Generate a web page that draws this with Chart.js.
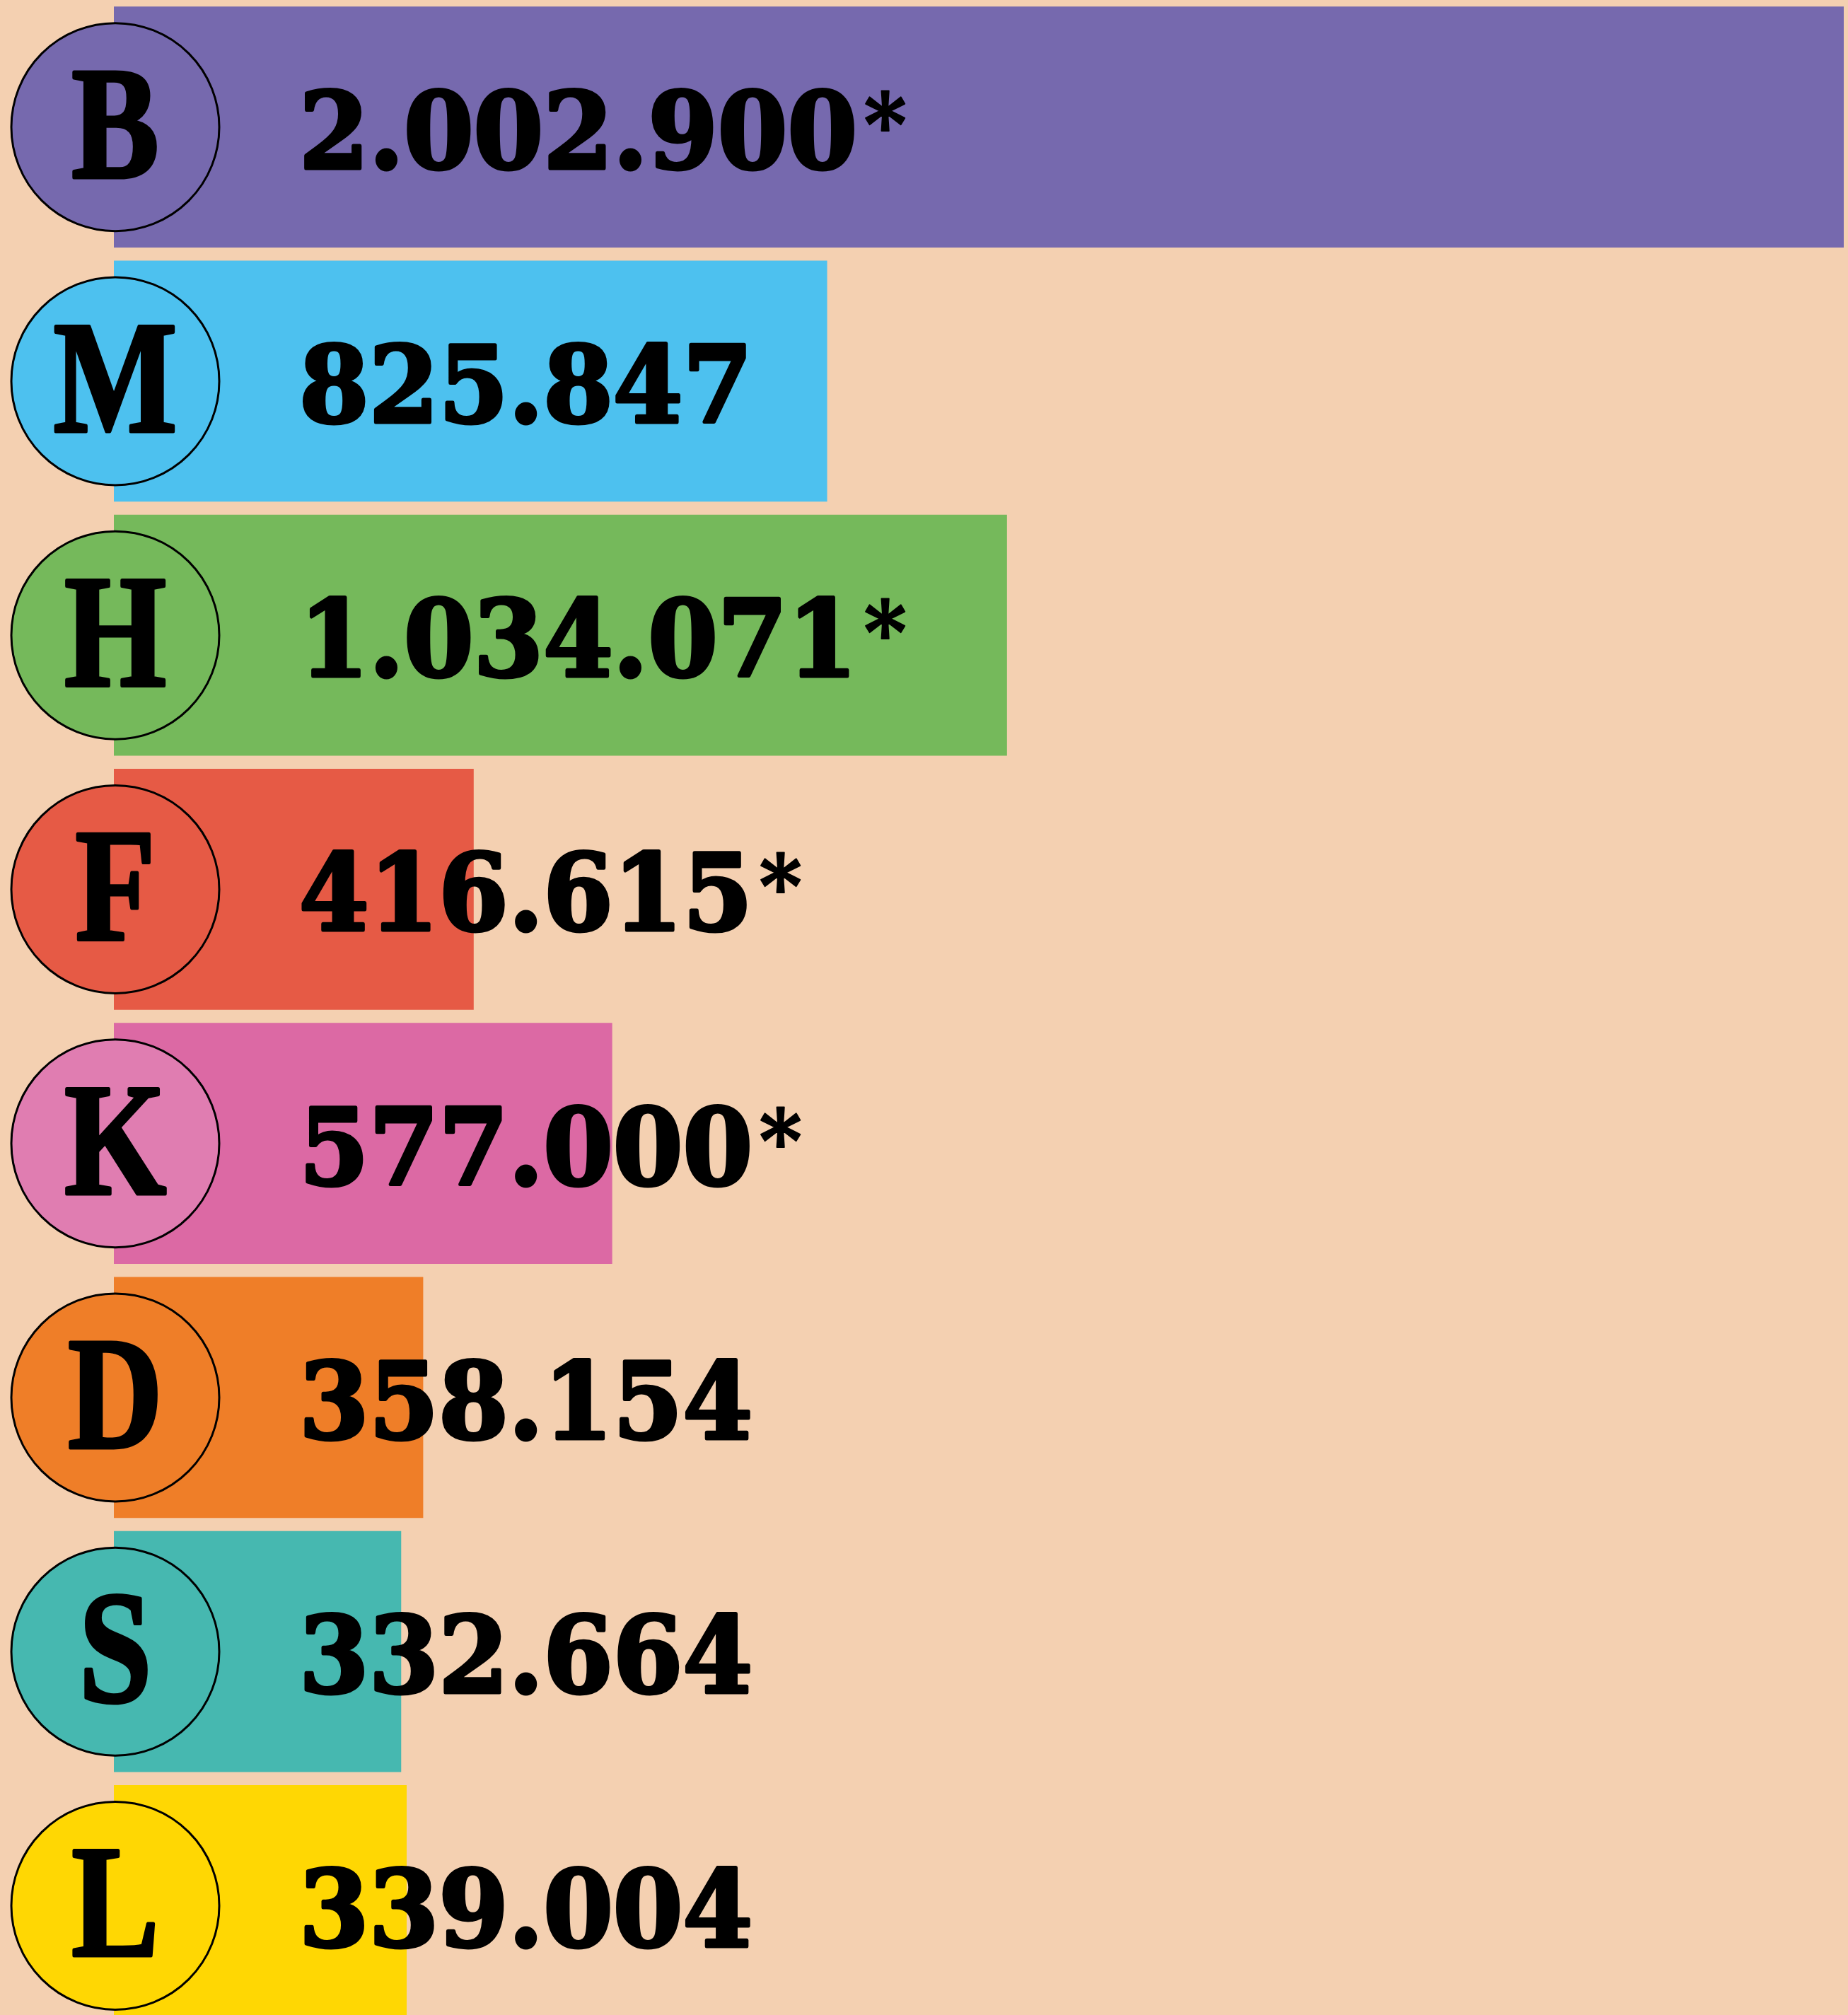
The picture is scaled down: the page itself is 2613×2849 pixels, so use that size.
<!DOCTYPE html>
<html>
<head>
<meta charset="utf-8">
<script src="https://cdn.jsdelivr.net/npm/chart.js@4"></script>
<style>
  html, body { margin: 0; padding: 0; background: #F4D0B1; overflow: hidden; }
  #wrap { width: 2613px; height: 2849px; overflow: hidden; }
  canvas { display: block; }
</style>
</head>
<body>
<div id="wrap"><canvas id="bars" width="2613" height="2874"></canvas></div>
<script>
// ----- data -----
const LETTERS = ['B', 'M', 'H', 'F', 'K', 'D', 'S', 'L'];
const VALUES = [2002900, 825847, 1034071, 416615, 577000, 358154, 332664, 339004];
const VALUE_LABELS = ['2.002.900', '825.847', '1.034.071', '416.615', '577.000', '358.154', '332.664', '339.004'];
const ESTIMATED = [true, false, true, true, true, false, false, false];
const BAR_COLORS = ['#7669AE', '#4DC1EF', '#75B95B', '#E65A45', '#DC69A4', '#EF7E28', '#46B8B0', '#FFD703'];
const CIRCLE_COLORS = ['#7669AE', '#4DC1EF', '#75B95B', '#E65A45', '#E07DB1', '#EF7E28', '#46B8B0', '#FFD703'];

// circles with initials + value text drawn on top of the bars
const badgePlugin = {
  id: 'badges',
  afterDatasetsDraw(chart) {
    const ctx = chart.ctx;
    const meta = chart.getDatasetMeta(0);
    const x0 = chart.scales.x.getPixelForValue(0);
    ctx.save();
    ctx.fillStyle = '#000';
    ctx.strokeStyle = '#000';
    ctx.lineJoin = 'round';
    meta.data.forEach((bar, i) => {
      const cy = bar.y;
      const cx = x0 + 2;
      // circle
      ctx.beginPath();
      ctx.arc(cx, cy, 147, 0, Math.PI * 2);
      ctx.fillStyle = CIRCLE_COLORS[i];
      ctx.fill();
      ctx.lineWidth = 3;
      ctx.stroke();
      ctx.fillStyle = '#000';

      // initial letter (condensed, heavy)
      ctx.save();
      ctx.translate(cx, cy + 71);
      ctx.scale(0.82, 1);
      ctx.font = 'bold 226px "Liberation Serif"';
      ctx.textAlign = 'center';
      ctx.textBaseline = 'alphabetic';
      ctx.lineWidth = 5;
      ctx.fillText(LETTERS[i], 0, 0);
      ctx.strokeText(LETTERS[i], 0, 0);
      ctx.restore();

      // value text
      ctx.save();
      ctx.translate(x0 + 262, cy + 58);
      ctx.scale(0.945, 1);
      ctx.font = 'bold 150px "DejaVu Serif"';
      ctx.textAlign = 'left';
      ctx.textBaseline = 'alphabetic';
      ctx.lineWidth = 5;
      ctx.fillText(VALUE_LABELS[i], 0, 0);
      ctx.strokeText(VALUE_LABELS[i], 0, 0);
      const w = ctx.measureText(VALUE_LABELS[i]).width;
      if (ESTIMATED[i]) {
        ctx.font = 'bold 122px "DejaVu Serif"';
        const m = ctx.measureText('*');
        ctx.lineWidth = 2;
        ctx.fillText('*', w + 10, -110 + m.actualBoundingBoxAscent);
        ctx.strokeText('*', w + 10, -110 + m.actualBoundingBoxAscent);
      }
      ctx.restore();
    });
    ctx.restore();
  }
};

new Chart(document.getElementById('bars').getContext('2d'), {
  type: 'bar',
  data: {
    labels: LETTERS,
    datasets: [{
      data: VALUES,
      backgroundColor: BAR_COLORS,
      borderWidth: 0,
      barPercentage: 0.949,
      categoryPercentage: 1.0,
    }]
  },
  options: {
    indexAxis: 'y',
    responsive: false,
    animation: false,
    layout: { padding: { left: 161, right: 6, top: 0, bottom: 0 } },
    plugins: { legend: { display: false }, tooltip: { enabled: false } },
    scales: {
      x: { display: false, min: 0, max: 2002900 },
      y: { display: false, offset: true }
    }
  },
  plugins: [badgePlugin]
});
</script>
</body>
</html>
